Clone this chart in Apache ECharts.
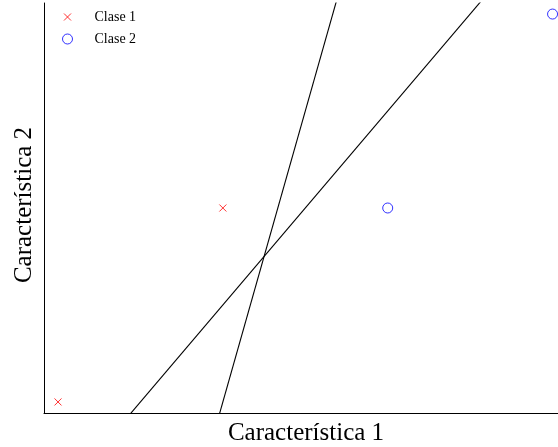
<!DOCTYPE html>
<html>
<head>
<meta charset="utf-8">
<script src="https://cdn.jsdelivr.net/npm/echarts@6/dist/echarts.min.js"></script>
<style>
  html, body { margin: 0; padding: 0; background: #fff; }
  #chart { width: 558px; height: 447px; }
</style>
</head>
<body>
<div id="chart"></div>
<script>
// Two-class toy dataset with two linear decision boundaries
const clase1 = [[0, 0], [1, 1]];
const clase2 = [[2, 1], [3, 2]];
// Boundary segments, each given by two end points (clipped to the plot)
const frontera1 = [[0.9, -0.3], [1.75, 2.25]];   // y = 3x - 3
const frontera2 = [[0.2, -0.3], [2.75, 2.25]];   // y = x - 0.5
const nombres = ['Clase 1', 'Clase 2'];
const ejeX = 'Característica 1';
const ejeY = 'Característica 2';

const serif = '"Liberation Serif", "DejaVu Serif", serif';
// thin "x" marker; the outer move-to points pad the box so the cross is smaller
const cruz = 'path://M0,0M10,10M1.5,1.5L8.5,8.5M8.5,1.5L1.5,8.5';

const chart = echarts.init(document.getElementById('chart'), null, { renderer: 'canvas' });
chart.setOption({
  animation: false,
  backgroundColor: '#fff',
  grid: { left: 44, top: 3, right: 0, bottom: 34, containLabel: false, outerBoundsMode: 'none' },
  xAxis: {
    type: 'value', min: -0.085, max: 3.033,
    name: ejeX, nameLocation: 'middle', nameGap: 8,
    nameTextStyle: { fontFamily: serif, fontSize: 25, color: '#000', padding: [0, 0, 0, 10] },
    axisLine: { show: true, onZero: false, lineStyle: { color: '#000', width: 1 } },
    axisTick: { show: false }, axisLabel: { show: false }, splitLine: { show: false }
  },
  yAxis: {
    type: 'value', min: -0.057, max: 2.057,
    name: ejeY, nameLocation: 'middle', nameGap: 7,
    nameTextStyle: { fontFamily: serif, fontSize: 25, color: '#000', padding: [0, 0, 0, 6] },
    axisLine: { show: true, onZero: false, lineStyle: { color: '#000', width: 1 } },
    axisTick: { show: false }, axisLabel: { show: false }, splitLine: { show: false }
  },
  legend: {
    orient: 'vertical', left: 57, top: 5,
    itemWidth: 10, itemHeight: 10, itemGap: 8,
    data: nombres,
    itemStyle: { borderWidth: 1 },
    textStyle: { fontFamily: serif, fontSize: 14, color: '#000', padding: [0, 0, 0, 17] }
  },
  series: [
    {
      type: 'line', data: frontera1, showSymbol: false, symbol: 'none', clip: true,
      lineStyle: { color: '#000', width: 1.1 }, silent: true
    },
    {
      type: 'line', data: frontera2, showSymbol: false, symbol: 'none', clip: true,
      lineStyle: { color: '#000', width: 1.1 }, silent: true
    },
    {
      name: nombres[0], type: 'scatter', data: clase1,
      symbol: cruz, symbolSize: 10,
      itemStyle: { color: 'transparent', borderColor: '#ff0000', borderWidth: 1 }
    },
    {
      name: nombres[1], type: 'scatter', data: clase2,
      symbol: 'circle', symbolSize: 10,
      itemStyle: { color: 'transparent', borderColor: '#0000ff', borderWidth: 1 }
    }
  ]
});
</script>
</body>
</html>
